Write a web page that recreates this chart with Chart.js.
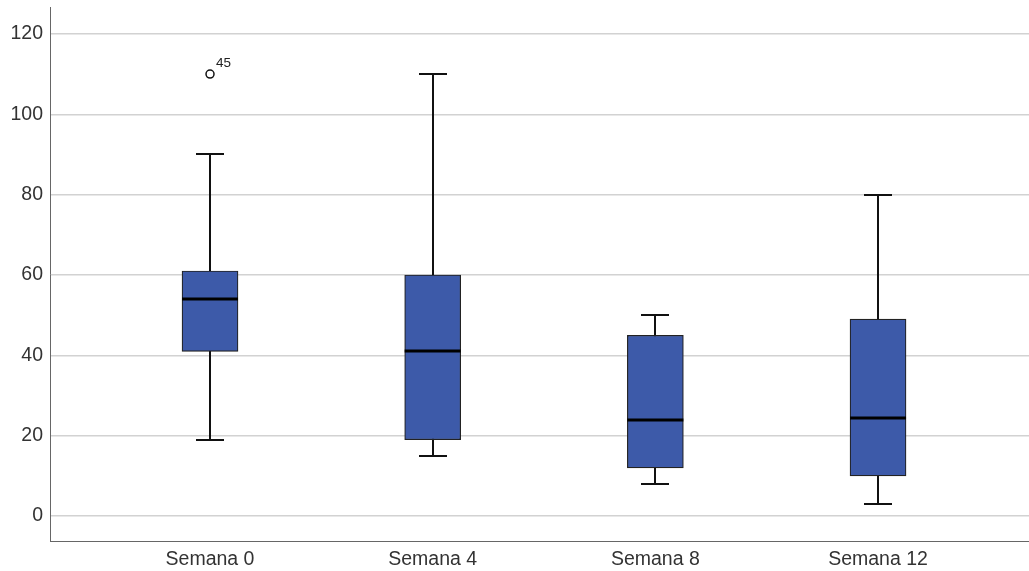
<!DOCTYPE html>
<html>
<head>
<meta charset="utf-8">
<script src="https://cdn.jsdelivr.net/npm/chart.js@4/dist/chart.umd.min.js"></script>
<style>
  html, body { margin: 0; padding: 0; background: #fff; }
  #wrap { width: 1029px; height: 571px; }
</style>
</head>
<body>
<div id="wrap"><canvas id="chart" width="1029" height="571"></canvas></div>
<script>
// box plot values per week
const labels = ['Semana 0', 'Semana 4', 'Semana 8', 'Semana 12'];
const whiskerLow = [19, 15, 8, 3];
const q1 = [41, 19, 12, 10];
const median = [54, 41, 24, 24.5];
const q3 = [61, 60, 45, 49];
const whiskerHigh = [90, 110, 50, 80];
const outlierPos = [0];
const outlierVal = [110];
const outlierLabel = ['45'];
const yTicks = [0, 20, 40, 60, 80, 100, 120];

const boxFill = '#3d5aa9';
const fontFamily = '"Liberation Sans", Arial, sans-serif';

// whiskers behind boxes, medians + outlier ids on top
const boxPlotLines = {
  id: 'boxPlotLines',
  beforeDatasetsDraw(chart) {
    const { ctx, scales: { x, y } } = chart;
    ctx.save();
    ctx.strokeStyle = '#111';
    labels.forEach((_, i) => {
      const cx = Math.round(x.getPixelForValue(i));
      ctx.lineWidth = 2;
      ctx.beginPath();
      ctx.moveTo(cx, y.getPixelForValue(whiskerLow[i]));
      ctx.lineTo(cx, y.getPixelForValue(whiskerHigh[i]));
      ctx.stroke();
      [whiskerLow[i], whiskerHigh[i]].forEach(v => {
        const py = Math.round(y.getPixelForValue(v));
        ctx.beginPath();
        ctx.moveTo(cx - 14, py);
        ctx.lineTo(cx + 14, py);
        ctx.stroke();
      });
    });
    ctx.restore();
  },
  afterDatasetsDraw(chart) {
    const { ctx, scales: { x, y } } = chart;
    ctx.save();
    ctx.strokeStyle = '#000';
    ctx.lineWidth = 3;
    labels.forEach((_, i) => {
      const cx = x.getPixelForValue(i);
      const py = Math.round(y.getPixelForValue(median[i]));
      ctx.beginPath();
      ctx.moveTo(cx - 28, py);
      ctx.lineTo(cx + 28, py);
      ctx.stroke();
    });
    ctx.fillStyle = '#222';
    ctx.font = '13.5px ' + fontFamily;
    ctx.textBaseline = 'middle';
    outlierPos.forEach((p, i) => {
      ctx.fillText(outlierLabel[i], x.getPixelForValue(p) + 6, y.getPixelForValue(outlierVal[i]) - 11);
    });
    ctx.restore();
  }
};

new Chart(document.getElementById('chart'), {
  type: 'bar',
  data: {
    datasets: [
      {
        type: 'bar',
        data: labels.map((_, i) => ({ x: i, y: [q1[i], q3[i]] })),
        backgroundColor: boxFill,
        borderColor: '#222',
        borderWidth: 1.2,
        borderSkipped: false,
        barThickness: 56
      },
      {
        type: 'scatter',
        data: outlierPos.map((p, i) => ({ x: p, y: outlierVal[i] })),
        pointStyle: 'circle',
        pointRadius: 4,
        pointBackgroundColor: '#fff',
        pointBorderColor: '#111',
        pointBorderWidth: 1.5
      }
    ]
  },
  options: {
    responsive: false,
    animation: false,
    layout: { autoPadding: false, padding: { top: 7, right: 0, left: 0, bottom: 0 } },
    plugins: { legend: { display: false }, tooltip: { enabled: false } },
    scales: {
      x: {
        type: 'linear',
        offset: false,
        min: -0.7186,
        max: 3.678,
        afterBuildTicks: s => { s.ticks = labels.map((_, i) => ({ value: i })); },
        afterFit: s => { s.height = 30; s.paddingLeft = 0; s.paddingRight = 0; },
        ticks: {
          callback: v => labels[v],
          color: '#333',
          padding: 7,
          font: { family: fontFamily, size: 19.5 }
        },
        grid: { display: false, drawTicks: false },
        border: { display: true, color: '#666', width: 1 }
      },
      y: {
        min: -6.2,
        max: 126.7,
        afterBuildTicks: s => { s.ticks = yTicks.map(v => ({ value: v })); },
        afterFit: s => { s.width = 50; s.paddingTop = 0; s.paddingBottom = 0; },
        ticks: {
          color: '#333',
          padding: 7,
          font: { family: fontFamily, size: 19.5 }
        },
        grid: { color: '#d2d2d2', lineWidth: 1.5, drawTicks: false },
        border: { display: true, color: '#666', width: 1 }
      }
    }
  },
  plugins: [boxPlotLines]
});
</script>
</body>
</html>
